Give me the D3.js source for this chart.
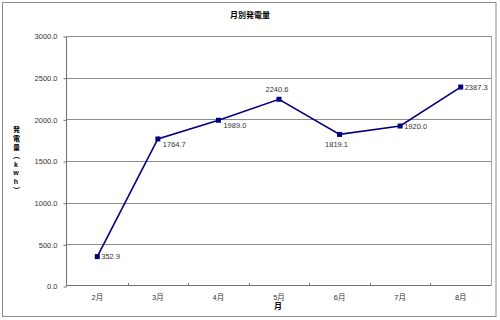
<!DOCTYPE html>
<html>
<head>
<meta charset="utf-8">
<script src="https://cdn.jsdelivr.net/npm/d3@7"></script>
<style>
  body { margin: 0; background: #fff; }
  text { font-family: "Liberation Sans", "Noto Sans CJK JP", sans-serif; }
</style>
</head>
<body>
<svg id="chart" width="500" height="320"></svg>
<script>
/* global d3 */

//* data
var months = ['2月', '3月', '4月', '5月', '6月', '7月', '8月'];
var output = [352.9, 1764.7, 1989.0, 2240.6, 1819.1, 1920.0, 2387.3];
var yTicks = [0, 500, 1000, 1500, 2000, 2500, 3000];

//* where each value label sits next to its marker
var labelPlace = ['right', 'rightBelow', 'rightBelow', 'above', 'below', 'right', 'right'];

var svg = d3.select('#chart');
var plot = { left: 67, top: 36, right: 491, bottom: 286 };
var NAVY = '#000080';
var JP = '"Noto Sans CJK JP", "Liberation Sans", sans-serif';

//* outer frame
svg.append('rect')
	.attr('x', 2.5).attr('y', 2.5)
	.attr('width', 493.5).attr('height', 314)
	.attr('fill', '#fff')
	.attr('stroke', '#8c8c8c')
	.attr('stroke-width', 1);

var x = d3.scaleBand().domain(months).range([plot.left, plot.right]);
var y = d3.scaleLinear().domain([0, 3000]).range([plot.bottom, plot.top]);

//* gridlines
svg.append('g')
	.selectAll('line')
	.data(yTicks.slice(1))
	.enter().append('line')
	.attr('x1', plot.left).attr('x2', plot.right)
	.attr('y1', function(d){ return Math.round(y(d)) + 0.5; })
	.attr('y2', function(d){ return Math.round(y(d)) + 0.5; })
	.attr('stroke', '#8c8c8c')
	.attr('stroke-width', 1);

//* plot border right
svg.append('line')
	.attr('x1', plot.right + 0.5).attr('x2', plot.right + 0.5)
	.attr('y1', plot.top).attr('y2', plot.bottom)
	.attr('stroke', '#a0a0a0');

//* y axis
var yAxis = svg.append('g')
	.attr('transform', 'translate(' + (plot.left - 0.5) + ',0.5)')
	.call(d3.axisLeft(y).tickValues(yTicks).tickSize(3).tickPadding(6)
		.tickFormat(function(d){ return d3.format('.1f')(d); }));
yAxis.select('.domain').attr('stroke', '#707070').attr('d', 'M0,' + plot.top + 'V' + plot.bottom);
yAxis.selectAll('.tick line').attr('stroke', '#707070');
yAxis.selectAll('text')
	.attr('font-size', 7.5)
	.attr('font-family', 'Liberation Sans, sans-serif')
	.attr('fill', '#333');

//* x axis
var xAxis = svg.append('g')
	.attr('transform', 'translate(0,' + (plot.bottom - 0.5) + ')')
	.call(d3.axisBottom(x).tickSize(0).tickPadding(9));
xAxis.select('.domain').attr('stroke', '#707070').attr('d', 'M' + plot.left + ',0H' + plot.right);
xAxis.selectAll('text')
	.attr('font-size', 7.5)
	.attr('font-family', JP)
	.attr('fill', '#333');

//* category boundary ticks
svg.append('g')
	.selectAll('line')
	.data(months.slice(1))
	.enter().append('line')
	.attr('x1', function(d){ return Math.round(x(d)) + 0.5; })
	.attr('x2', function(d){ return Math.round(x(d)) + 0.5; })
	.attr('y1', plot.bottom - 3).attr('y2', plot.bottom)
	.attr('stroke', '#707070');

//* series line
var line = d3.line()
	.x(function(d, i){ return x(months[i]) + x.bandwidth() / 2; })
	.y(function(d){ return y(d); });

svg.append('path')
	.datum(output)
	.attr('d', line)
	.attr('fill', 'none')
	.attr('stroke', NAVY)
	.attr('stroke-width', 1.6);

//* markers
svg.append('g')
	.selectAll('rect')
	.data(output)
	.enter().append('rect')
	.attr('x', function(d, i){ return x(months[i]) + x.bandwidth() / 2 - 2.5; })
	.attr('y', function(d){ return y(d) - 2.5; })
	.attr('width', 5).attr('height', 5)
	.attr('fill', NAVY);

//* value labels
var offsets = {
	right: { dx: 4, dy: 2.5, anchor: 'start' },
	rightBelow: { dx: 5, dy: 8, anchor: 'start' },
	above: { dx: -2, dy: -7, anchor: 'middle' },
	below: { dx: -3, dy: 13, anchor: 'middle' }
};

svg.append('g')
	.selectAll('text')
	.data(output)
	.enter().append('text')
	.attr('x', function(d, i){ return x(months[i]) + x.bandwidth() / 2 + offsets[labelPlace[i]].dx; })
	.attr('y', function(d, i){ return y(d) + offsets[labelPlace[i]].dy; })
	.attr('font-size', 7.5)
	.attr('fill', '#333')
	.style('text-anchor', function(d, i){ return offsets[labelPlace[i]].anchor; })
	.text(function(d){ return d3.format('.1f')(d); });

//* title
svg.append('text')
	.attr('x', 250).attr('y', 18)
	.attr('font-family', JP)
	.attr('font-size', 8)
	.attr('font-weight', 'bold')
	.style('text-anchor', 'middle')
	.text('月別発電量');

//* x axis title
svg.append('text')
	.attr('x', 278).attr('y', 309)
	.attr('font-family', JP)
	.attr('font-size', 8)
	.attr('font-weight', 'bold')
	.style('text-anchor', 'middle')
	.text('月');

//* y axis title, stacked vertically
svg.append('text')
	.attr('x', 16).attr('y', 126)
	.attr('font-family', JP)
	.attr('font-size', 7)
	.attr('font-weight', 'bold')
	.attr('letter-spacing', 1.7)
	.style('writing-mode', 'vertical-rl')
	.style('text-orientation', 'upright')
	.text('発電量（kwh）');
</script>
</body>
</html>
